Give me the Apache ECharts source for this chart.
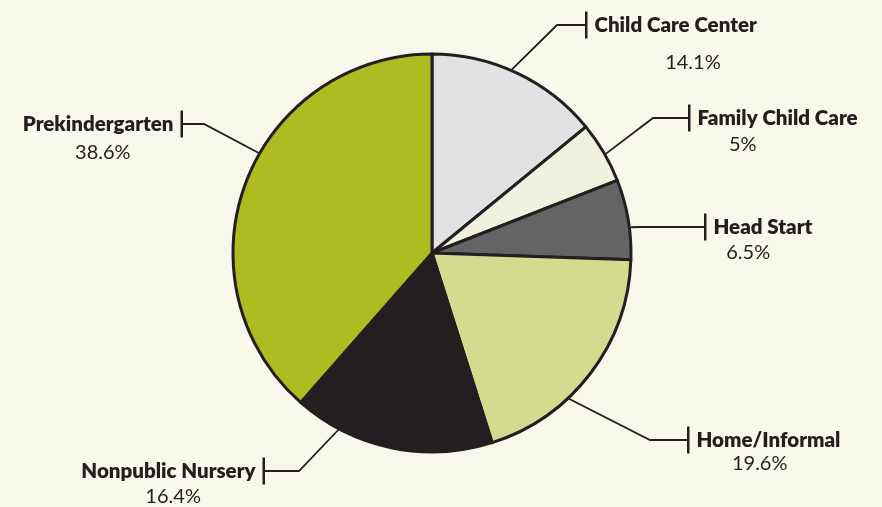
<!DOCTYPE html>
<html><head><meta charset="utf-8">
<style>html,body{margin:0;padding:0;background:#f7f7ec;}#c{width:882px;height:507px;}</style>
<script src="https://cdn.jsdelivr.net/npm/echarts@6/dist/echarts.min.js"></script>
</head><body><div id="c"></div>
<script>
// ---- data ----
const categories = ['Child Care Center', 'Family Child Care', 'Head Start', 'Home/Informal', 'Nonpublic Nursery', 'Prekindergarten'];
const values = [14.1, 5, 6.5, 19.6, 16.4, 38.6];
const valueLabels = ['14.1%', '5%', '6.5%', '19.6%', '16.4%', '38.6%'];

// ---- styles / layout (not data) ----
const colors = ['#e1e2e4', '#f1f2de', '#646465', '#d4db8f', '#231f20', '#adbc21'];
const INK = '#231f20';
const CX = 432, CY = 253, R = 199;
const NAME_LH = 26;
// x,y: tick-bar anchor of each label; elbowX: bend of the leader; leaderDeg: where the leader leaves the pie rim
const labelAnchors = [
  { side: 'right', x: 585, y: 25,  elbowX: 557, leaderDeg: 66.5,  pctLine: 50, pctShift: 22 },
  { side: 'right', x: 688, y: 118, elbowX: 653, leaderDeg: 29.7,  pctLine: 28, pctShift: -30 },
  { side: 'right', x: 704, y: 227, elbowX: 640, leaderDeg: 7.4,   pctLine: 26, pctShift: -10 },
  { side: 'right', x: 687, y: 440, elbowX: 650, leaderDeg: -46.8, pctLine: 22, pctShift: -4 },
  { side: 'left',  x: 265, y: 471, elbowX: 299, leaderDeg: -117.9, pctLine: 26, pctShift: 0 },
  { side: 'left',  x: 183, y: 124, elbowX: 204, leaderDeg: 150,   pctLine: 32, pctShift: 0 }
];

const rich = {
  bar: { width: 2.5, height: 27, lineHeight: NAME_LH, backgroundColor: INK },
  g: { width: 7, lineHeight: NAME_LH },
  name: { fontFamily: 'Lato', fontWeight: 800, fontSize: 20.5, color: INK, lineHeight: NAME_LH }
};
labelAnchors.forEach((a, i) => {
  const s = a.pctShift;
  rich['p' + i] = {
    fontFamily: 'Lato', fontSize: 20, color: INK, lineHeight: a.pctLine, align: 'center',
    padding: s >= 0 ? [0, 0, 0, 2 * s] : [0, -2 * s, 0, 0]
  };
});

const chart = echarts.init(document.getElementById('c'));
chart.setOption({
  backgroundColor: '#f7f7ec',
  animation: false,
  series: [{
    type: 'pie',
    center: [CX, CY],
    radius: R,
    startAngle: 90,
    clockwise: true,
    avoidLabelOverlap: false,
    data: categories.map((c, i) => ({ name: c, value: values[i], itemStyle: { color: colors[i] } })),
    itemStyle: { borderColor: INK, borderWidth: 3 },
    emphasis: { disabled: true },
    label: {
      show: true,
      position: 'outside',
      distanceToLabelLine: 0,
      rich: rich,
      formatter: function (p) {
        const a = labelAnchors[p.dataIndex];
        const first = a.side === 'right'
          ? '{bar| }{g| }{name|' + p.name + '}'
          : '{name|' + p.name + '}{g| }{bar| }';
        return first + '\n{p' + p.dataIndex + '|' + valueLabels[p.dataIndex] + '}';
      }
    },
    labelLine: { show: true, lineStyle: { color: INK, width: 1.8 } },
    labelLayout: function (p) {
      const a = labelAnchors[p.dataIndex];
      const t = a.leaderDeg * Math.PI / 180;
      const sx = CX + Math.cos(t) * (R + 1), sy = CY - Math.sin(t) * (R + 1);
      return {
        x: a.x,
        y: a.y - NAME_LH / 2,
        align: a.side === 'right' ? 'left' : 'right',
        verticalAlign: 'top',
        labelLinePoints: [[sx, sy], [a.elbowX, a.y], [a.x, a.y]]
      };
    }
  }]
});
</script></body></html>
